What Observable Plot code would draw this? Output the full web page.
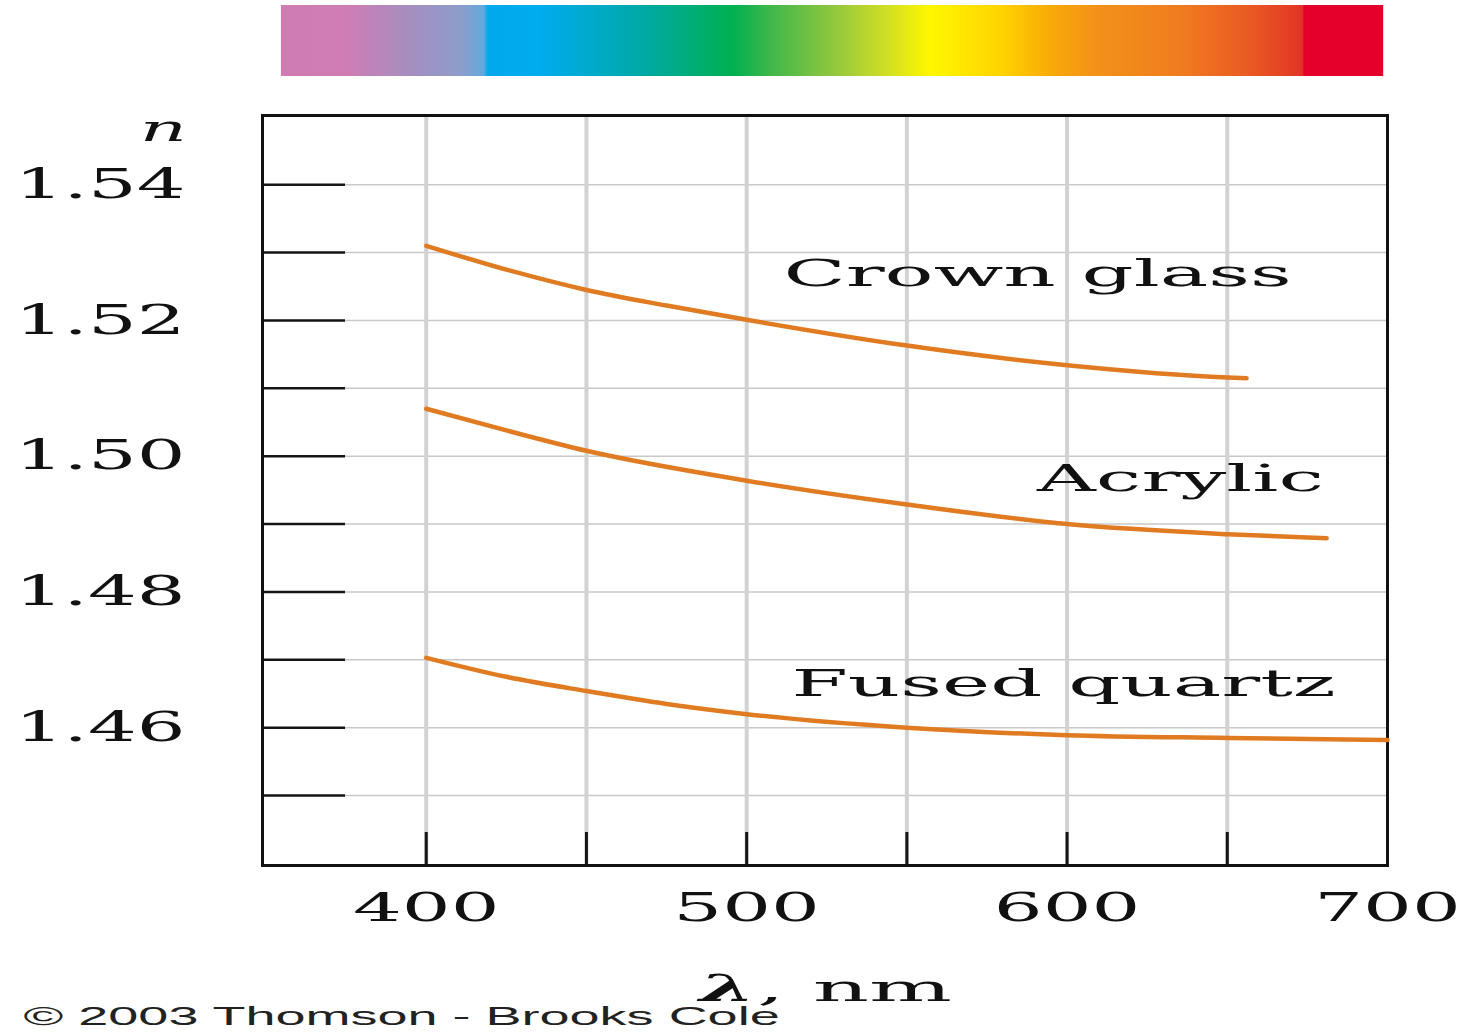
<!DOCTYPE html>
<html>
<head>
<meta charset="utf-8">
<script src="https://cdn.jsdelivr.net/npm/d3@7"></script>
<script src="https://cdn.jsdelivr.net/npm/@observablehq/plot@0.6"></script>
<style>
  html, body { margin: 0; padding: 0; background: #ffffff; }
  #chart { width: 1470px; height: 1035px; overflow: hidden; }
</style>
</head>
<body>
<div id="chart"></div>
<script>
// ---------------- DATA ----------------
const crownLambda   = [400, 425, 450, 475, 500, 550, 600, 650, 656];
const crownN        = [1.5310, 1.5275, 1.5245, 1.5222, 1.5201, 1.5163, 1.5134, 1.5116, 1.5115];
const acrylicLambda = [400, 425, 450, 500, 550, 600, 650, 681];
const acrylicN      = [1.5070, 1.5038, 1.5008, 1.4964, 1.4929, 1.4900, 1.4885, 1.4879];
const quartzLambda  = [400, 425, 450, 475, 500, 550, 600, 650, 700];
const quartzN       = [1.4703, 1.4675, 1.4654, 1.4635, 1.4620, 1.4600, 1.4589, 1.4585, 1.4582];

const materials      = ["Crown glass", "Acrylic", "Fused quartz"];
const labelLambda    = [590.8, 635.4, 598.9];
const labelN         = [1.5268, 1.4966, 1.4664];

const yTicks  = [1.45, 1.46, 1.47, 1.48, 1.49, 1.50, 1.51, 1.52, 1.53, 1.54];
const yLabels = [1.46, 1.48, 1.50, 1.52, 1.54];
const xTicks  = [400, 450, 500, 550, 600, 650];
const xLabels = [400, 500, 600, 700];
const xDomain = [348.9, 700];
const yDomain = [1.4397, 1.5502];

// visible spectrum strip (wavelength range and colour stops)
const spectrumRange  = [354.8, 698.8];
const spectrumLambda = [354.8, 375.4, 393.2, 411.0, 418.0, 419.4, 435.7, 466.9, 495.9, 507.5, 526.2, 541.8, 557.4, 579.2, 595.0, 608.3, 635.4, 657.0, 671.3, 673.6, 674.1, 698.8];
const spectrumColor  = ["#d07cb2", "#cf7db3", "#a98cbf", "#8c9dcb", "#62a9dd", "#00a9ec", "#00abee", "#00a9a8", "#00b050", "#3fb74a", "#8dc63f", "#c9db28", "#fff700", "#ffd400", "#f8aa08", "#f39218", "#f07c1f", "#e95a23", "#e33a25", "#e3302a", "#e5002b", "#e5002b"];

const yTitle = "n";
const lambdaSymbol = "\u03BB";
const xUnit = ", nm";
const copyright = "\u00A9 2003 Thomson - Brooks Cole";

// --------------- BUILD ---------------
const rows = [];
[[crownLambda, crownN], [acrylicLambda, acrylicN], [quartzLambda, quartzN]].forEach(([ls, ns], i) => {
  ls.forEach((l, j) => rows.push({material: materials[i], lambda: l, n: ns[j]}));
});
const labels = materials.map((m, i) => ({material: m, lambda: labelLambda[i], n: labelN[i]}));
const spectrum = [{start: spectrumRange[0], end: spectrumRange[1]}];

const serif = "'DejaVu Serif', 'Liberation Serif', serif";
const sans = "'Liberation Sans', Arial, sans-serif";
const curveColor = "#e07b22";
const ink = "#111";

const chart = Plot.plot({
  width: 1470,
  height: 1035,
  marginLeft: 262,
  marginRight: 83,
  marginTop: 115,
  marginBottom: 170,
  style: {background: "#ffffff", overflow: "visible"},
  x: {domain: xDomain, axis: null},
  y: {domain: yDomain, axis: null},
  marks: [
    Plot.rect(spectrum, {x1: "start", x2: "end", fill: "url(#spectrum)", insetTop: -110, insetBottom: 789}),
    Plot.ruleY(yTicks, {y: d => d, stroke: "#c8c8c8", strokeWidth: 1.5}),
    Plot.ruleX(xTicks, {x: d => d, stroke: "#d2d2d2", strokeWidth: 4}),
    Plot.ruleY(yTicks, {y: d => d, stroke: "#151515", strokeWidth: 2.5, insetRight: 1042}),
    Plot.ruleX(xTicks, {x: d => d, stroke: "#151515", strokeWidth: 3, insetTop: 717}),
    Plot.frame({stroke: ink, strokeWidth: 3}),
    Plot.line(rows, {x: "lambda", y: "n", z: "material", stroke: curveColor, strokeWidth: 4.5, curve: "monotone-x"}),
    Plot.text(labels, {x: "lambda", y: "n", text: "material", fontFamily: serif, fontSize: 37, fill: ink}),
    Plot.text(yLabels, {y: d => d, text: d => d.toFixed(2), frameAnchor: "left", textAnchor: "end", lineAnchor: "middle", dx: -77, fontFamily: serif, fontSize: 41, fill: ink}),
    Plot.text(xLabels, {x: d => d, text: d => String(d), frameAnchor: "bottom", textAnchor: "middle", lineAnchor: "middle", dy: 43, fontFamily: serif, fontSize: 40, fill: ink}),
    Plot.text([yTitle], {text: d => d, frameAnchor: "top-left", textAnchor: "middle", lineAnchor: "middle", dx: -99, dy: 14, fontFamily: serif, fontStyle: "italic", fontSize: 35, fill: ink}),
    Plot.text([lambdaSymbol], {text: d => d, frameAnchor: "bottom", textAnchor: "end", lineAnchor: "middle", dx: -69.5, dy: 123, fontFamily: serif, fontStyle: "italic", fontWeight: "bold", fontSize: 38, fill: ink}),
    Plot.text([xUnit], {text: d => d, frameAnchor: "bottom", textAnchor: "start", lineAnchor: "middle", dx: -68, dy: 124, fontFamily: serif, fontSize: 35, fill: ink}),
    Plot.text([copyright], {text: d => d, frameAnchor: "bottom-left", textAnchor: "start", lineAnchor: "middle", dx: -239, dy: 151, fontFamily: sans, fontSize: 25, fill: "#222"})
  ]
});

document.getElementById("chart").appendChild(chart);

// gradient for the spectrum strip
const svg = d3.select(chart);
const defs = svg.insert("defs", ":first-child");
const grad = defs.append("linearGradient").attr("id", "spectrum").attr("x1", "0").attr("x2", "1").attr("y1", "0").attr("y2", "0");
spectrumLambda.forEach((l, i) => {
  grad.append("stop")
    .attr("offset", (l - spectrumRange[0]) / (spectrumRange[1] - spectrumRange[0]))
    .attr("stop-color", spectrumColor[i]);
});

// horizontally stretched lettering, as in the original slide
function stretchFor(t) {
  if (materials.includes(t)) return 2.2;
  if (yLabels.map(d => d.toFixed(2)).includes(t)) return 1.87;
  if (xLabels.map(String).includes(t)) return 1.92;
  if (t === yTitle) return 2.1;
  if (t === lambdaSymbol) return 2.1;
  if (t === xUnit) return 2.5;
  if (t === copyright) return 2.16;
  return 1;
}
svg.selectAll("text").each(function() {
  const k = stretchFor(this.textContent);
  if (k === 1) return;
  const w = this.getComputedTextLength();
  if (!(w > 0)) return;
  this.setAttribute("textLength", (w * k).toFixed(1));
  this.setAttribute("lengthAdjust", "spacingAndGlyphs");
});
</script>
</body>
</html>
